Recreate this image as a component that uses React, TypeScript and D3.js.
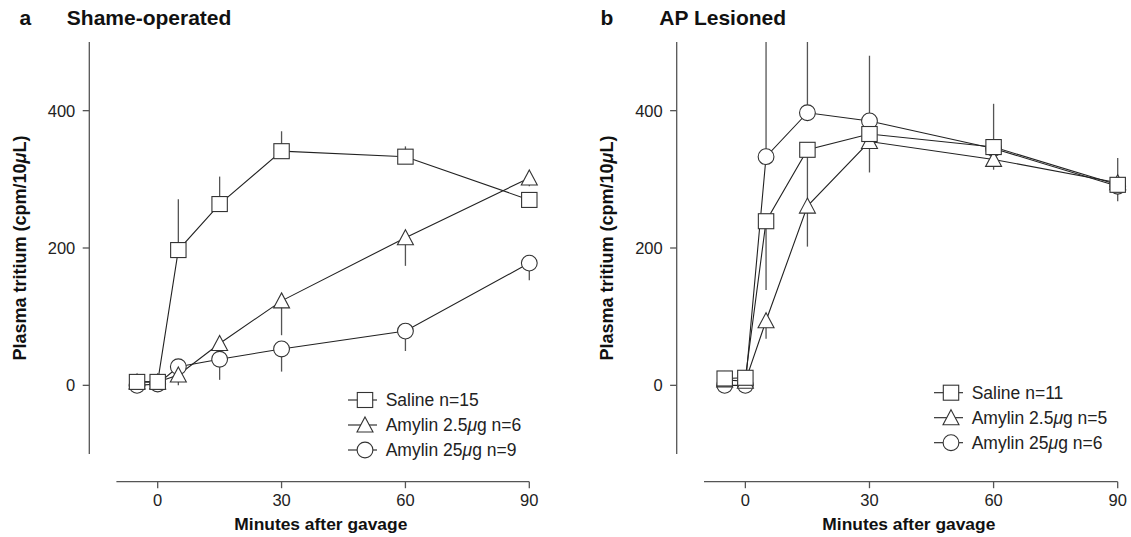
import React from "react";
import * as d3 from "d3";

// Sampling times (minutes after gavage)
const minutes = [-5, 0, 5, 15, 30, 60, 90];
const xTicks = [0, 30, 60, 90];
const yTicks = [0, 200, 400];

// Panel a: sham-operated (means, end of the one-sided error bar or null)
const shamSaline = [5, 5, 197, 264, 341, 333, 270];
const shamSalineErr = [null, null, 271, 304, 370, 348, null];
const shamAmylinLow = [5, 5, 15, 61, 123, 215, 302];
const shamAmylinLowErr = [null, null, 0, 45, 73, 174, 290];
const shamAmylinHigh = [0, 2, 27, 38, 53, 79, 178];
const shamAmylinHighErr = [null, null, null, 8, 20, 50, 153];
const shamLegend = ["Saline n=15", "Amylin 2.5|g n=6", "Amylin 25|g n=9"];

// Panel b: AP lesioned
const apSaline = [10, 11, 239, 343, 366, 347, 292];
const apSalineErr = [null, null, 139, 261, null, 410, 331];
const apAmylinLow = [8, 6, 94, 261, 355, 329, 295];
const apAmylinLowErr = [null, null, 68, 202, 310, 314, 268];
const apAmylinHigh = [0, 0, 333, 397, 385, 345, 290];
const apAmylinHighErr = [null, null, 600, 600, 480, null, null];
const apLegend = ["Saline n=11", "Amylin 2.5|g n=5", "Amylin 25|g n=6"];

type Shape = "square" | "triangle" | "circle";
type Series = { shape: Shape; values: number[]; err: (number | null)[] };

const FONT = "'Liberation Sans', Arial, Helvetica, sans-serif";
const INK = "#222";
const AXIS = "#555";
const Y_DOMAIN: [number, number] = [-100, 500];

function Marker({ shape, x, y }: { shape: Shape; x: number; y: number }) {
  const common = { fill: "#fff", stroke: "#333", strokeWidth: 1.1 };
  if (shape === "square") return <rect x={x - 7.7} y={y - 7.5} width={15.4} height={15} {...common} />;
  if (shape === "circle") return <circle cx={x} cy={y} r={7.9} {...common} />;
  return <path d={`M${x},${y - 8}L${x + 8},${y + 7}L${x - 8},${y + 7}Z`} {...common} />;
}

function LegendText({ text, x, y }: { text: string; x: number; y: number }) {
  const [pre, post] = text.split("|");
  return (
    <text x={x} y={y} dy="0.36em" fontFamily={FONT} fontSize={17.5} fill={INK}>
      {pre}
      {post !== undefined && (
        <>
          <tspan fontStyle="italic">μ</tspan>
          {post}
        </>
      )}
    </text>
  );
}

type PanelProps = {
  letter: string;
  letterX: number;
  title: string;
  titleX: number;
  series: Series[];
  legend: string[];
  axisX: number;
  plotLeft: number;
  plotRight: number;
  legendX: number;
  legendY: number;
};

function Panel(p: PanelProps) {
  const { series, axisX, legendX, legendY } = p;
  const x = d3.scaleLinear().domain([-10, 90]).range([p.plotLeft, p.plotRight]);
  const y = d3.scaleLinear().domain(Y_DOMAIN).range([454, 42]);
  const clampY = (v: number) => y(Math.min(Y_DOMAIN[1], Math.max(Y_DOMAIN[0], v)));
  const line = d3
    .line<number>()
    .x((_, i) => x(minutes[i]))
    .y((v) => y(v));
  const axisY = 481.7;

  return (
    <g>
      <text x={p.letterX} y={25} fontFamily={FONT} fontWeight="bold" fontSize={21} fill="#111">
        {p.letter}
      </text>
      <text x={p.titleX} y={25} fontFamily={FONT} fontWeight="bold" fontSize={21} fill="#111">
        {p.title}
      </text>

      {/* y axis */}
      <line x1={axisX} x2={axisX} y1={y(Y_DOMAIN[1])} y2={y(Y_DOMAIN[0])} stroke={AXIS} strokeWidth={1.3} />
      {yTicks.map((t) => (
        <g key={t}>
          <line x1={axisX - 6.6} x2={axisX} y1={y(t)} y2={y(t)} stroke={AXIS} strokeWidth={1.3} />
          <text x={axisX - 14} y={y(t)} dy="0.36em" textAnchor="end" fontFamily={FONT} fontSize={16.5} fill={INK}>
            {t}
          </text>
        </g>
      ))}
      <text
        transform={`translate(${axisX - 63.8},${(y(Y_DOMAIN[0]) + y(Y_DOMAIN[1])) / 2}) rotate(-90)`}
        textAnchor="middle"
        fontFamily={FONT}
        fontWeight="bold"
        fontSize={18}
        fill="#111"
      >
        Plasma tritium (cpm/10<tspan fontStyle="italic">μ</tspan>L)
      </text>

      {/* x axis */}
      <line x1={x(-10)} x2={x(90)} y1={axisY} y2={axisY} stroke={AXIS} strokeWidth={1.3} />
      {xTicks.map((t) => (
        <g key={t}>
          <line x1={x(t)} x2={x(t)} y1={axisY} y2={axisY + 6.5} stroke={AXIS} strokeWidth={1.3} />
          <text x={x(t)} y={506} textAnchor="middle" fontFamily={FONT} fontSize={16.5} fill={INK}>
            {t}
          </text>
        </g>
      ))}
      <text x={(x(-10) + x(90)) / 2 - 2} y={530} textAnchor="middle" fontFamily={FONT} fontWeight="bold" fontSize={17.4} fill="#111">
        Minutes after gavage
      </text>

      {/* error bars */}
      {series.map((s, si) =>
        s.err.map((e, i) =>
          e === null ? null : (
            <line
              key={`e${si}-${i}`}
              x1={x(minutes[i])}
              x2={x(minutes[i])}
              y1={y(s.values[i])}
              y2={clampY(e)}
              stroke={AXIS}
              strokeWidth={1.3}
            />
          )
        )
      )}
      {/* connecting lines */}
      {series.map((s, si) => (
        <path key={`l${si}`} d={line(s.values) ?? ""} fill="none" stroke={INK} strokeWidth={1.1} />
      ))}
      {/* markers, first series drawn on top */}
      {[...series].reverse().map((s, si) =>
        s.values.map((v, i) => <Marker key={`m${si}-${i}`} shape={s.shape} x={x(minutes[i])} y={y(v)} />)
      )}

      {/* legend */}
      {series.map((s, i) => (
        <g key={`lg${i}`}>
          <line x1={legendX - 17} x2={legendX + 12} y1={legendY + i * 25} y2={legendY + i * 25} stroke={INK} strokeWidth={1.1} />
          <Marker shape={s.shape} x={legendX} y={legendY + i * 25} />
          <LegendText text={p.legend[i]} x={legendX + 20.7} y={legendY + i * 25} />
        </g>
      ))}
    </g>
  );
}

export default function App() {
  const sham: Series[] = [
    { shape: "square", values: shamSaline, err: shamSalineErr },
    { shape: "triangle", values: shamAmylinLow, err: shamAmylinLowErr },
    { shape: "circle", values: shamAmylinHigh, err: shamAmylinHighErr },
  ];
  const ap: Series[] = [
    { shape: "square", values: apSaline, err: apSalineErr },
    { shape: "triangle", values: apAmylinLow, err: apAmylinLowErr },
    { shape: "circle", values: apAmylinHigh, err: apAmylinHighErr },
  ];
  return (
    <svg width={1131} height={537} style={{ position: "absolute", left: 0, top: 0, background: "#fff" }}>
      <rect width={1131} height={537} fill="#fff" />
      <Panel
        letter="a"
        letterX={19.6}
        title="Shame-operated"
        titleX={66.8}
        series={sham}
        legend={shamLegend}
        axisX={89.3}
        plotLeft={116.4}
        plotRight={529.3}
        legendX={365}
        legendY={400}
      />
      <Panel
        letter="b"
        letterX={600.4}
        title="AP Lesioned"
        titleX={659.3}
        series={ap}
        legend={apLegend}
        axisX={676.7}
        plotLeft={745.4 - 41.4}
        plotRight={1117.7}
        legendX={951}
        legendY={392.7}
      />
    </svg>
  );
}
